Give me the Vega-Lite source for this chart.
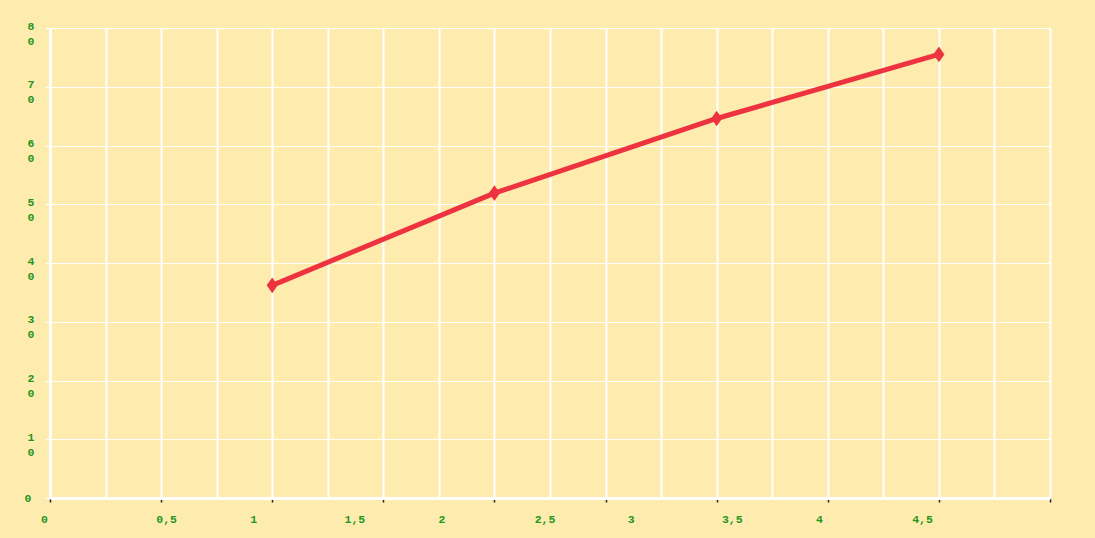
{
  "$schema": "https://vega.github.io/schema/vega-lite/v6.json",
  "width": 1000,
  "height": 470,
  "autosize": "none",
  "padding": {"left": 50, "top": 28, "right": 45, "bottom": 40},
  "background": "#FEEBAE",
  "config": {
    "view": {"stroke": null, "fill": "#FEEBAE"},
    "axis": {
      "labelFont": "Liberation Mono",
      "labelFontWeight": "bold",
      "labelFontSize": 11.5,
      "labelColor": "#1F961F"
    }
  },
  "data": {
    "values": [
      {"x": 1, "y": 36.2},
      {"x": 2, "y": 51.9},
      {"x": 3, "y": 64.6},
      {"x": 4, "y": 75.5}
    ]
  },
  "encoding": {
    "x": {
      "field": "x",
      "type": "quantitative",
      "title": null,
      "scale": {"domain": [0, 4.5], "nice": false, "zero": false},
      "axis": {
        "values": [0, 0.25, 0.5, 0.75, 1, 1.25, 1.5, 1.75, 2, 2.25, 2.5, 2.75, 3, 3.25, 3.5, 3.75, 4, 4.25, 4.5],
        "grid": true,
        "gridColor": "#FFFFFF",
        "gridWidth": 2,
        "gridOpacity": 1,
        "domainColor": "#FFFFFF",
        "domainWidth": 3,
        "ticks": true,
        "tickColor": "#222222",
        "tickWidth": 1.5,
        "tickSize": 4,
        "tickOpacity": {"condition": {"test": "(datum.value * 2) % 1 != 0", "value": 0}, "value": 1},
        "labelExpr": "(datum.value * 2) % 1 == 0 ? replace('' + datum.value, '.', ',') : ''",
        "labelOverlap": false,
        "labelFlush": false,
        "labelBound": false,
        "labelPadding": 11,
        "labelAlign": "center",
        "labelOffset": {
          "condition": [
            {"test": "datum.value == 0", "value": -6},
            {"test": "datum.value == 0.5", "value": 5},
            {"test": "datum.value == 1", "value": -19},
            {"test": "datum.value == 1.5", "value": -29},
            {"test": "datum.value == 2", "value": -53},
            {"test": "datum.value == 2.5", "value": -61},
            {"test": "datum.value == 3", "value": -86},
            {"test": "datum.value == 3.5", "value": -96},
            {"test": "datum.value == 4", "value": -120},
            {"test": "datum.value == 4.5", "value": -128}
          ],
          "value": 0
        }
      }
    },
    "y": {
      "field": "y",
      "type": "quantitative",
      "title": null,
      "scale": {"domain": [0, 80], "nice": false},
      "axis": {
        "values": [0, 10, 20, 30, 40, 50, 60, 70, 80],
        "grid": true,
        "gridColor": "#FFFFFF",
        "gridWidth": 1.2,
        "gridOpacity": 1,
        "domainColor": "#FFFFFF",
        "domainWidth": 3,
        "tickColor": "#FFFFFF",
        "tickWidth": 1.2,
        "tickSize": 5,
        "labelExpr": "datum.value == 0 ? '0' : [substring('' + datum.value, 0, 1), substring('' + datum.value, 1, 2)]",
        "labelLineHeight": 15,
        "labelAlign": "right",
        "labelBaseline": {"condition": {"test": "datum.value == 0", "value": "middle"}, "value": "top"},
        "labelOffset": {"condition": {"test": "datum.value == 0", "value": 0}, "value": -8},
        "labelPadding": {"condition": {"test": "datum.value == 0", "value": 14}, "value": 11},
        "labelOverlap": false,
        "labelFlush": false,
        "labelBound": false
      }
    }
  },
  "layer": [
    {
      "mark": {"type": "line", "color": "#EE3340", "strokeWidth": 5}
    },
    {
      "mark": {
        "type": "point",
        "filled": true,
        "opacity": 1,
        "color": "#EE3340",
        "shape": "M0,-1.35L0.95,0L0,1.35L-0.95,0Z",
        "size": 135
      }
    }
  ]
}
